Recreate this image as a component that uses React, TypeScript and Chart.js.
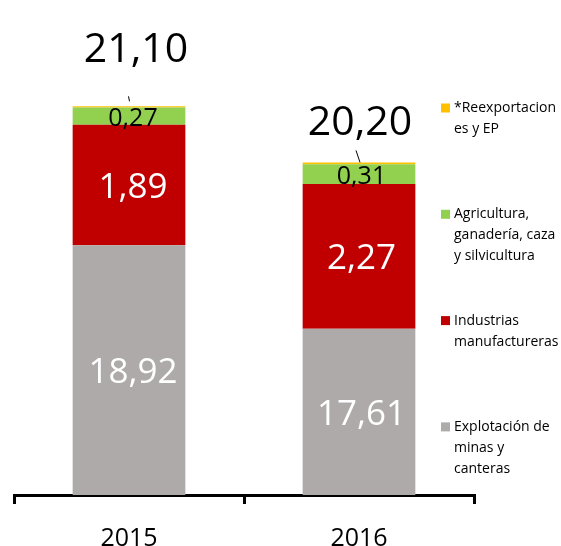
import React, { useEffect, useRef } from "react";
import { Chart, registerables } from "chart.js";

Chart.register(...registerables);

const categories = ["2015", "2016"];
const explotacion = [18.92, 17.61];
const industrias = [1.89, 2.27];
const agricultura = [0.27, 0.31];
const reexportaciones = [0.02, 0.03];
const totalLabels = ["21,10", "20,20"];

const seriesNames = [
  "Explotación de minas y canteras",
  "Industrias manufactureras",
  "Agricultura, ganadería, caza y silvicultura",
  "*Reexportaciones y EP",
];
const legendLines = [
  ["Explotación de", "minas y", "canteras"],
  ["Industrias", "manufactureras"],
  ["Agricultura,", "ganadería, caza", "y silvicultura"],
  ["*Reexportacion", "es y EP"],
];

const yMin = 15;
const yMax = 22;

const COLORS = ["#AEAAAA", "#C00000", "#92D050", "#FFC000"];
const FONT = "'Open Sans', sans-serif";

const fmt = (v: number) => v.toFixed(2).replace(".", ",");

const labelsPlugin = {
  id: "customLabels",
  afterDatasetsDraw(chart: any) {
    const ctx = chart.ctx;
    const area = chart.chartArea;
    const segDx = [4, 2.5];
    const segDy = 3;
    ctx.save();
    ctx.textAlign = "center";
    ctx.textBaseline = "middle";
    [0, 1, 2].forEach((d) => {
      const meta = chart.getDatasetMeta(d);
      const ds = chart.data.datasets[d];
      meta.data.forEach((bar: any, i: number) => {
        const p = bar.getProps(["x", "y", "base"], true);
        const bottom = Math.min(p.base, area.bottom);
        const cy = (p.y + bottom) / 2;
        if (d === 2) {
          ctx.fillStyle = "#000";
          ctx.font = `25px ${FONT}`;
        } else {
          ctx.fillStyle = "#fff";
          ctx.font = `35px ${FONT}`;
        }
        ctx.fillText(fmt(ds.data[i]), p.x + segDx[i], cy + segDy);
      });
    });
    const topMeta = chart.getDatasetMeta(3);
    const totDx = [7, 1];
    const totDy = [-56, -39];
    const leader = [
      [-0.5, -10, 0.5, -5],
      [-3, -12, 1, 0],
    ];
    topMeta.data.forEach((bar: any, i: number) => {
      const p = bar.getProps(["x", "y"], true);
      ctx.fillStyle = "#000";
      ctx.font = `41px ${FONT}`;
      ctx.fillText(totalLabels[i], p.x + totDx[i], p.y + totDy[i]);
      const l = leader[i];
      ctx.strokeStyle = "#000";
      ctx.lineWidth = 1;
      ctx.beginPath();
      ctx.moveTo(p.x + l[0], p.y + l[1]);
      ctx.lineTo(p.x + l[2], p.y + l[3]);
      ctx.stroke();
    });
    ctx.restore();
  },
  afterDraw(chart: any) {
    const ctx = chart.ctx;
    const x0 = 441;
    const startY = 108;
    const step = 106.3;
    const lineH = 21;
    ctx.save();
    ctx.textAlign = "left";
    ctx.textBaseline = "middle";
    ctx.font = `14px ${FONT}`;
    const order = [3, 2, 1, 0];
    order.forEach((d, k) => {
      const y = startY + k * step;
      ctx.fillStyle = COLORS[d];
      ctx.fillRect(x0, y - 4.5, 9, 9);
      ctx.fillStyle = "#000";
      legendLines[d].forEach((line, j) => {
        ctx.fillText(line, x0 + 13, y + j * lineH);
      });
    });
    ctx.restore();
  },
};

export default function App() {
  const canvasRef = useRef<HTMLCanvasElement | null>(null);

  useEffect(() => {
    if (!canvasRef.current) return;
    const seriesData = [explotacion, industrias, agricultura, reexportaciones];
    const chart = new Chart(canvasRef.current, {
      type: "bar",
      data: {
        labels: categories,
        datasets: seriesData.map((data, i) => ({
          label: seriesNames[i],
          data,
          backgroundColor: COLORS[i],
          borderWidth: 0,
          clip: 0,
          categoryPercentage: 1,
          barPercentage: 0.49,
        })),
      },
      options: {
        animation: false,
        responsive: true,
        maintainAspectRatio: false,
        layout: { padding: { left: 14, right: 87, top: 49, bottom: 0 } },
        plugins: {
          legend: { display: false },
          tooltip: { enabled: false },
        },
        scales: {
          x: {
            stacked: true,
            grid: {
              display: true,
              offset: true,
              drawOnChartArea: false,
              drawTicks: true,
              tickLength: 9,
              color: "#000",
              lineWidth: 3,
            },
            border: { display: true, color: "#000", width: 3 },
            ticks: {
              color: "#000",
              font: { family: FONT, size: 25, lineHeight: 1 },
              padding: 22,
            },
          },
          y: {
            stacked: true,
            display: false,
            min: yMin,
            max: yMax,
          },
        },
      },
      plugins: [labelsPlugin],
    });
    return () => chart.destroy();
  }, []);

  return (
    <div style={{ position: "fixed", left: 0, top: 0, width: 561, height: 573, background: "#fff" }}>
      <canvas ref={canvasRef} />
    </div>
  );
}
